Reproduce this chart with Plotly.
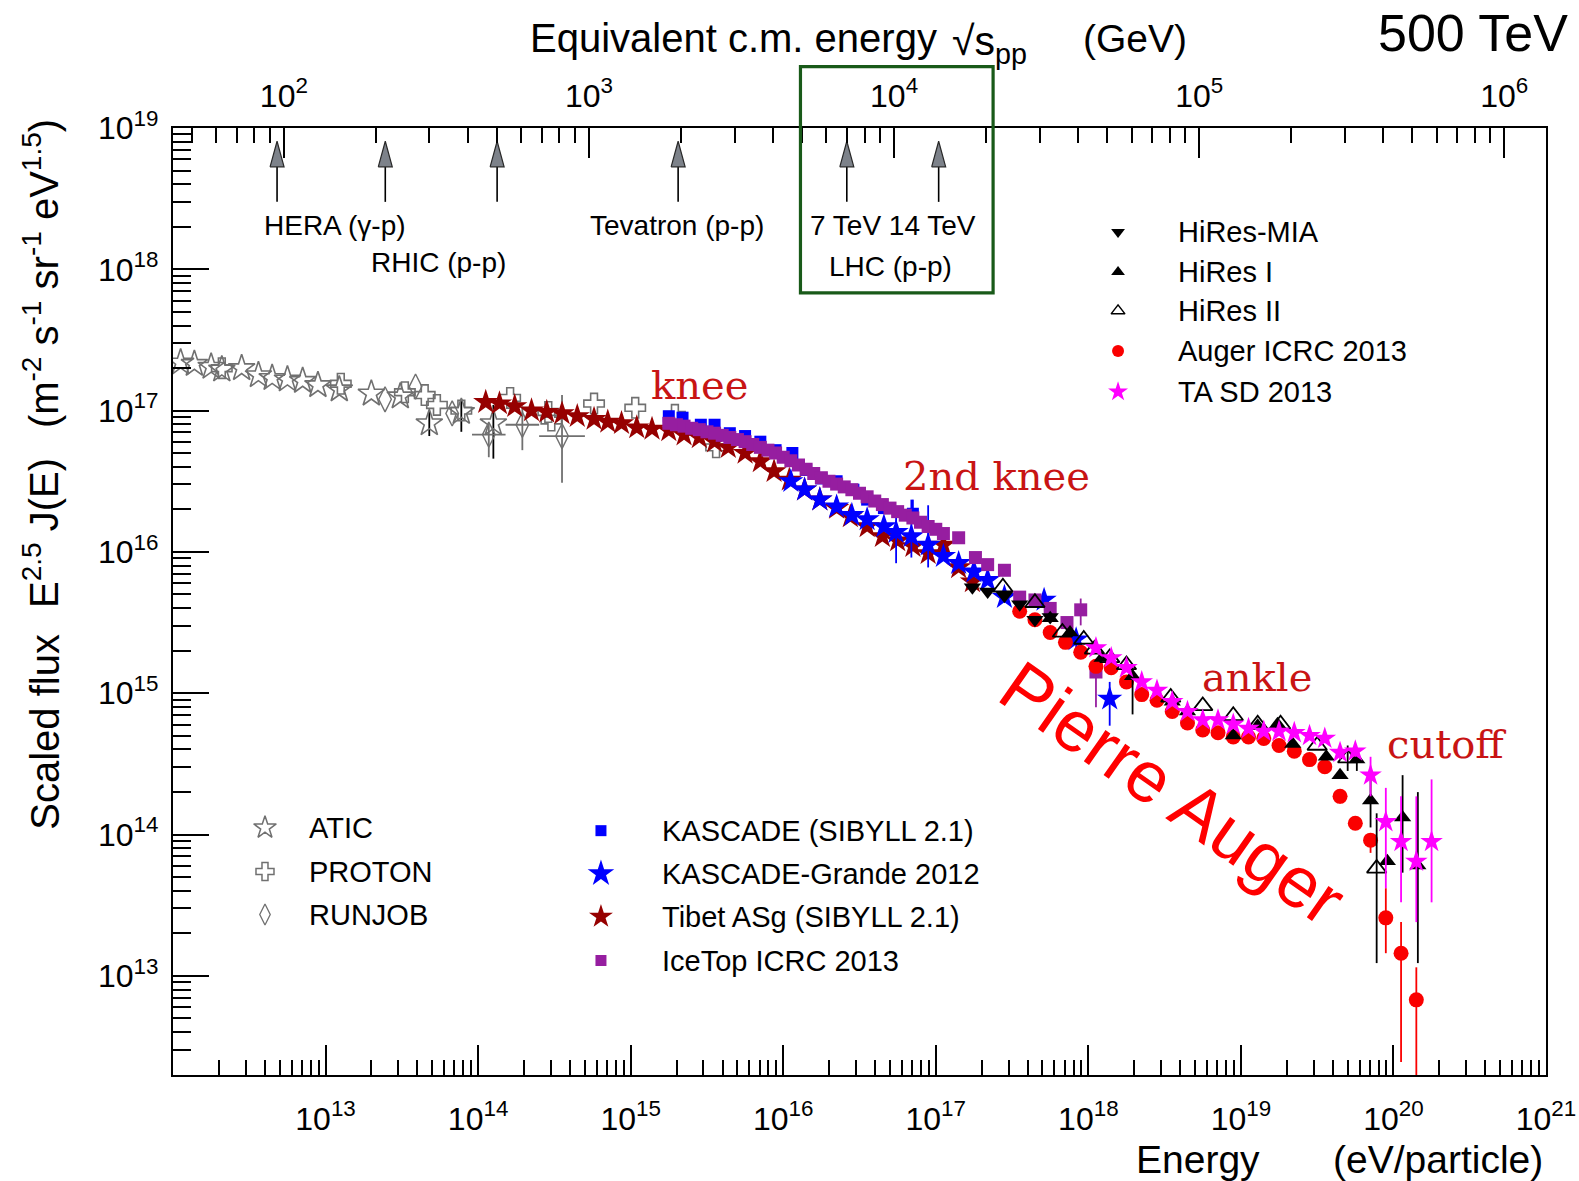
import numpy as np
import plotly.graph_objects as go

# ---------------- data: log10(E / eV) and log10(E^2.5 J(E)) ----------------
atic_logE = [12.05, 12.14, 12.25, 12.32, 12.45, 12.56, 12.65, 12.75, 12.85, 12.95, 13.09, 13.30, 13.49, 13.68, 13.89, 14.10]
atic_logF = [17.34, 17.33, 17.31, 17.29, 17.30, 17.25, 17.23, 17.22, 17.21, 17.18, 17.15, 17.12, 17.10, 16.91, 16.99, 16.91]
atic_err = {13.68: (16.99, 16.82), 13.89: (17.08, 16.85), 14.10: (17.04, 16.66)}

proton_logE = [12.32, 13.10, 13.52, 13.65, 13.73, 13.89, 14.21, 14.46, 14.48, 14.76, 15.03, 15.29, 15.56]
proton_logF = [17.30, 17.19, 17.13, 17.11, 17.04, 17.00, 17.09, 16.99, 16.93, 17.05, 17.02, 16.97, 16.74]

runjob_logE = [13.39, 13.59, 13.83, 14.07, 14.29, 14.55]
runjob_logF = [17.08, 17.17, 16.98, 16.83, 16.90, 16.82]
runjob_err = {14.07: (16.91, 16.67), 14.29: (17.03, 16.72), 14.55: (17.11, 16.49)}
runjob_xerr = {14.07: (14.18, 13.96), 14.29: (14.40, 14.18), 14.55: (14.70, 14.40)}

tibet_logE = [14.05, 14.14, 14.24, 14.35, 14.45, 14.55, 14.65, 14.76, 14.85, 14.94, 15.04, 15.14, 15.25, 15.35,
              15.45, 15.55, 15.64, 15.75, 15.85, 15.94, 16.04, 16.14, 16.24, 16.35, 16.44, 16.55, 16.65, 16.75,
              16.85, 16.95, 17.05, 17.15, 17.24]
tibet_logF = [17.06, 17.05, 17.03, 17.00, 16.99, 16.98, 16.96, 16.94, 16.92, 16.91, 16.88, 16.87, 16.86, 16.83,
              16.81, 16.78, 16.74, 16.70, 16.64, 16.57, 16.51, 16.44, 16.37, 16.31, 16.25, 16.18, 16.11, 16.08,
              16.04, 15.99, 16.05, 15.89, 15.79]

kascade_logE = [15.25, 15.34, 15.46, 15.55, 15.65, 15.75, 15.85, 15.95, 16.06, 16.15, 16.25, 16.35, 16.46, 16.55, 16.66, 16.85]
kascade_logF = [16.96, 16.95, 16.90, 16.90, 16.84, 16.82, 16.78, 16.72, 16.70, 16.58, 16.52, 16.50, 16.44, 16.37, 16.31, 16.27]
kascade_err = {16.85: (16.37, 16.20)}

grande_logE = [16.05, 16.14, 16.24, 16.35, 16.45, 16.55, 16.66, 16.74, 16.84, 16.95, 17.05, 17.15, 17.25, 17.34,
               17.45, 17.71, 17.92, 18.14]
grande_logF = [16.50, 16.44, 16.37, 16.32, 16.26, 16.23, 16.18, 16.14, 16.11, 16.05, 15.97, 15.92, 15.86, 15.80,
               15.68, 15.66, 15.38, 14.96]
grande_err = {16.74: (16.32, 15.92), 16.84: (16.37, 15.96), 16.95: (16.33, 15.89), 17.92: (15.43, 15.32),
              18.14: (15.08, 14.77)}

icetop_logE = [15.25, 15.30, 15.35, 15.40, 15.45, 15.50, 15.55, 15.60, 15.65, 15.70, 15.75, 15.80, 15.85, 15.90,
               15.95, 16.00, 16.05, 16.10, 16.15, 16.20, 16.25, 16.30, 16.35, 16.40, 16.45, 16.50, 16.55, 16.60,
               16.65, 16.70, 16.75, 16.80, 16.85, 16.90, 16.95, 17.00, 17.05, 17.15, 17.26, 17.34, 17.45, 17.55,
               17.65, 17.75, 17.86, 17.95, 18.05]
icetop_logF = [16.91, 16.90, 16.89, 16.875, 16.865, 16.85, 16.84, 16.825, 16.81, 16.795, 16.78, 16.76, 16.74, 16.72,
               16.70, 16.67, 16.645, 16.615, 16.585, 16.555, 16.525, 16.50, 16.48, 16.46, 16.44, 16.415, 16.39, 16.36,
               16.335, 16.31, 16.285, 16.26, 16.24, 16.21, 16.18, 16.16, 16.13, 16.10, 15.96, 15.91, 15.87, 15.68,
               15.66, 15.60, 15.50, 15.59, 15.15]
icetop_err = {17.95: (15.67, 15.48), 18.05: (15.19, 14.90)}

mia_logE = [17.24, 17.34, 17.45, 17.55, 17.65, 17.75]
mia_logF = [15.75, 15.72, 15.69, 15.63, 15.52, 15.54]

hires1_logE = [17.75, 17.88, 18.09, 18.29, 18.55, 18.65, 18.95, 19.11, 19.24, 19.34, 19.56, 19.65, 19.76, 19.85,
               19.96, 20.06, 20.16]
hires1_logF = [15.53, 15.43, 15.25, 15.12, 14.94, 14.87, 14.70, 14.77, 14.78, 14.64, 14.55, 14.42, 14.53, 14.24,
               13.81, 14.12, 13.78]
hires1_err = {18.29: (15.20, 14.85), 19.76: (14.60, 14.45), 19.85: (14.39, 14.05), 20.06: (14.42, 13.73),
              20.16: (14.30, 13.09)}

hires2_logE = [17.44, 17.65, 17.83, 17.97, 18.04, 18.14, 18.25, 18.54, 18.75, 18.95, 19.11, 19.26, 19.50, 19.70, 19.89]
hires2_logF = [15.75, 15.64, 15.43, 15.38, 15.31, 15.25, 15.20, 14.97, 14.91, 14.84, 14.78, 14.78, 14.63, 14.54, 13.76]
hires2_err = {19.70: (14.63, 14.45), 19.89: (14.15, 13.09)}

auger_logE = [17.55, 17.65, 17.75, 17.85, 17.95, 18.05, 18.15, 18.25, 18.35, 18.45, 18.55, 18.65, 18.75, 18.85,
              18.95, 19.05, 19.15, 19.25, 19.35, 19.45, 19.55, 19.65, 19.75, 19.85, 19.95, 20.05, 20.15]
auger_logF = [15.58, 15.52, 15.43, 15.36, 15.29, 15.19, 15.18, 15.08, 14.99, 14.95, 14.87, 14.79, 14.74, 14.72,
              14.69, 14.69, 14.68, 14.63, 14.59, 14.53, 14.48, 14.27, 14.08, 13.96, 13.41, 13.16, 12.83]
auger_err = {19.65: (14.30, 14.22), 19.75: (14.11, 14.04), 19.85: (14.01, 13.87), 19.95: (13.62, 13.16),
             20.05: (13.38, 12.39), 20.15: (13.06, 12.00)}

ta_logE = [18.05, 18.15, 18.25, 18.35, 18.45, 18.55, 18.65, 18.75, 18.85, 18.95, 19.05, 19.15, 19.25, 19.35,
           19.45, 19.55, 19.65, 19.75, 19.85, 19.95, 20.05, 20.15, 20.25]
ta_logF = [15.32, 15.25, 15.18, 15.08, 15.02, 14.94, 14.87, 14.81, 14.81, 14.78, 14.75, 14.73, 14.73, 14.72,
           14.70, 14.68, 14.58, 14.59, 14.42, 14.09, 13.95, 13.81, 13.95]
ta_err = {19.65: (14.62, 14.53), 19.75: (14.63, 14.55), 19.85: (14.55, 14.27), 19.95: (14.33, 13.62),
          20.05: (14.27, 13.52), 20.15: (14.27, 13.38), 20.25: (14.39, 13.52)}

# collider equivalent c.m. energies (GeV) marked by arrows
collider_sqrt_s = [95, 215, 500, 1960, 7000, 14000]

# tick labels
x_exponents = [13, 14, 15, 16, 17, 18, 19, 20, 21]
y_exponents = [13, 14, 15, 16, 17, 18, 19]
top_exponents = [2, 3, 4, 5, 6]

# ---------------- helpers ----------------
def P(a):
    return np.power(10.0, np.asarray(a, dtype=float))


def err_arrays(logv, center, errs):
    plus, minus = [], []
    for e, c in zip(logv, center):
        if errs and e in errs:
            hi, lo = errs[e]
            plus.append(10 ** hi - 10 ** c)
            minus.append(10 ** c - 10 ** lo)
        else:
            plus.append(0.0)
            minus.append(0.0)
    return plus, minus


GRAY = 'rgb(112,112,112)'
BLUE = 'rgb(0,0,255)'
DRED = 'rgb(150,0,0)'
PURP = 'rgb(150,30,160)'
RED = 'rgb(250,0,0)'
MAG = 'rgb(255,0,255)'

fig = go.Figure()


def series(name, logE, logF, symbol, size, color, lw=0, errs=None, ecolor=None, xerrs=None):
    m = dict(symbol=symbol, size=size, color=color, line=dict(width=lw, color=color))
    tr = go.Scatter(x=P(logE), y=P(logF), mode='markers', name=name, showlegend=False, marker=m)
    if errs:
        plus, minus = err_arrays(logE, logF, errs)
        tr.error_y = dict(type='data', symmetric=False, array=plus, arrayminus=minus,
                          color=ecolor or color, thickness=1.8, width=0)
    if xerrs:
        xp, xm = [], []
        for e in logE:
            if e in xerrs:
                hi, lo = xerrs[e]
                xp.append(10 ** hi - 10 ** e)
                xm.append(10 ** e - 10 ** lo)
            else:
                xp.append(0.0)
                xm.append(0.0)
        tr.error_x = dict(type='data', symmetric=False, array=xp, arrayminus=xm,
                          color=ecolor or color, thickness=1.8, width=0)
    fig.add_trace(tr)


series('ATIC', atic_logE, atic_logF, 'star-open', 20, GRAY, lw=1.6, errs=atic_err, ecolor='black')
series('PROTON', proton_logE, proton_logF, 'cross-open', 17, GRAY, lw=1.6)
series('RUNJOB', runjob_logE, runjob_logF, 'diamond-tall-open', 18, GRAY, lw=1.4, errs=runjob_err,
       ecolor=GRAY, xerrs=runjob_xerr)
series('Tibet ASg (SIBYLL 2.1)', tibet_logE, tibet_logF, 'star', 19, DRED)
series('KASCADE (SIBYLL 2.1)', kascade_logE, kascade_logF, 'square', 12, BLUE, errs=kascade_err)
series('KASCADE-Grande 2012', grande_logE, grande_logF, 'star', 19, BLUE, errs=grande_err)
series('IceTop ICRC 2013', icetop_logE, icetop_logF, 'square', 13, PURP, errs=icetop_err)
series('Auger ICRC 2013', auger_logE, auger_logF, 'circle', 15, RED, errs=auger_err)
series('HiRes-MIA', mia_logE, mia_logF, 'triangle-down', 15, 'black')
series('HiRes I', hires1_logE, hires1_logF, 'triangle-up', 15, 'black', errs=hires1_err)
series('HiRes II', hires2_logE, hires2_logF, 'triangle-up-open', 17, 'black', lw=1.8, errs=hires2_err)
series('TA SD 2013', ta_logE, ta_logF, 'star', 17, MAG, errs=ta_err)

# ---------------- collider arrows (top axis units, y in plot-fraction units) ----------------
hw = 7 / (1373 / 4.5)   # half width of arrow head in decades of the top axis
y_tail, y_base, y_tip = 0.922, 0.959, 0.986
for c in collider_sqrt_s:
    fig.add_trace(go.Scatter(x=[c, c], y=[y_tail, y_base], xaxis='x2', yaxis='y3', mode='lines',
                             line=dict(color='black', width=1.6), showlegend=False, hoverinfo='skip'))
    fig.add_trace(go.Scatter(x=[c * 10 ** (-hw), c, c * 10 ** hw, c * 10 ** (-hw)],
                             y=[y_base, y_tip, y_base, y_base], xaxis='x2', yaxis='y3', mode='lines',
                             fill='toself', fillcolor='rgb(125,130,138)',
                             line=dict(color='rgb(40,40,40)', width=1.2), showlegend=False, hoverinfo='skip'))

# ---------------- legends (marker + text), placed in plot-fraction units ----------------
legend_groups = [
    (0.0670, 0.0976, [('ATIC', 'star-open', 17, GRAY, 1.5, 0.2612),
                      ('PROTON', 'cross-open', 15, GRAY, 1.5, 0.2148),
                      ('RUNJOB', 'diamond-tall-open', 15, GRAY, 1.3, 0.1694)]),
    (0.3117, 0.3547, [('KASCADE (SIBYLL 2.1)', 'square', 11, BLUE, 0, 0.2580),
                      ('KASCADE-Grande 2012', 'star', 20, BLUE, 0, 0.2127),
                      ('Tibet ASg (SIBYLL 2.1)', 'star', 18, DRED, 0, 0.1673),
                      ('IceTop ICRC 2013', 'square', 11, PURP, 0, 0.1209)]),
    (0.6883, 0.7305, [('HiRes-MIA', 'triangle-down', 12, 'black', 0, 0.8902),
                      ('HiRes I', 'triangle-up', 12, 'black', 0, 0.8480),
                      ('HiRes II', 'triangle-up-open', 12, 'black', 1.5, 0.8069),
                      ('Auger ICRC 2013', 'circle', 12, RED, 0, 0.7646),
                      ('TA SD 2013', 'star', 15, MAG, 0, 0.7214)]),
]
annotations = []
LEG_FONT = dict(family='Liberation Sans, Arial, sans-serif', size=29, color='black')
for mx, tx, entries in legend_groups:
    for label, sym, sz, col, lw, yy in entries:
        fig.add_trace(go.Scatter(x=[mx], y=[yy], xaxis='x3', yaxis='y3', mode='markers',
                                 marker=dict(symbol=sym, size=sz, color=col, line=dict(width=lw, color=col)),
                                 showlegend=False, hoverinfo='skip', cliponaxis=False))
        annotations.append(dict(text=label, x=tx, y=yy, xref='paper', yref='paper', xanchor='left',
                                yanchor='middle', showarrow=False, font=LEG_FONT))


def note(text, x, y, font, angle=0, xanchor='center', yanchor='middle'):
    annotations.append(dict(text=text, x=x, y=y, xref='paper', yref='paper', showarrow=False,
                            xanchor=xanchor, yanchor=yanchor, textangle=angle, font=font))


# ---------------- text annotations ----------------
SANS = 'Liberation Sans, Arial, sans-serif'
SERIF = 'DejaVu Serif, Liberation Serif, serif'
lab_font = dict(family=SANS, size=28, color='black')
for txt, x, y in [('HERA (γ-p)', 0.1180, 0.8966), ('RHIC (p-p)', 0.1937, 0.8575),
                  ('Tevatron (p-p)', 0.3671, 0.8966), ('7 TeV 14 TeV', 0.5244, 0.8966),
                  ('LHC (p-p)', 0.5229, 0.8533)]:
    note(txt, x, y, lab_font)

red_font = dict(family=SERIF, size=40, color='rgb(200,20,20)')
for txt, x, y in [('knee', 0.3838, 0.7288), ('2nd knee', 0.6001, 0.6327),
                  ('ankle', 0.7895, 0.4206), ('cutoff', 0.9272, 0.3499)]:
    note(txt, x, y, red_font)

note('Pierre Auger', 0.7283, 0.2982, dict(family=SANS, size=72, color='rgb(255,0,0)'), angle=35)

title_font = dict(family=SANS, size=39, color='black')
note('Equivalent c.m. energy', 0.4083, 1.0950, dict(family=SANS, size=40, color='black'))
note('√s<sub>pp</sub>', 0.5950, 1.0890, dict(family=SANS, size=41, color='black'))
note('(GeV)', 0.7007, 1.0950, title_font)
note('500 TeV', 0.9468, 1.1003, dict(family=SANS, size=52, color='black'))
note('Energy', 0.7465, -0.0892, title_font)
note('(eV/particle)', 0.9213, -0.0892, title_font)
ytitle_font = dict(family=SANS, size=40, color='black')
note('Scaled flux', -0.0932, 0.3625, ytitle_font, angle=-90)
note('E<sup>2.5</sup> J(E)', -0.0960, 0.5726, ytitle_font, angle=-90)
note('(m<sup>-2</sup> s<sup>-1</sup> sr<sup>-1</sup> eV<sup>1.5</sup>)', -0.0960, 0.8459, ytitle_font, angle=-90)

# ---------------- axes ----------------
tick_font = dict(family=SANS, size=32, color='black')
m_p = 0.938272  # GeV
top_range = [0.5 * np.log10(2 * m_p * 1e3), 0.5 * np.log10(2 * m_p * 1e12)]


def minors(k0, k1):
    return [d * 10.0 ** k for k in range(k0, k1) for d in range(2, 10)]


common = dict(showgrid=False, zeroline=False, tickfont=tick_font, tickcolor='black', tickwidth=1.6,
              automargin=False, ticklabeloverflow='allow')

fig.update_layout(
    width=1579, height=1181,
    margin=dict(l=173, r=33, t=128, b=106, autoexpand=False),
    plot_bgcolor='white', paper_bgcolor='white',
    showlegend=False,
    annotations=annotations,
    shapes=[dict(type='rect', xref='paper', yref='paper', x0=0.4570, x1=0.5973, y0=0.8259, y1=1.0649,
                 line=dict(color='rgb(25,90,25)', width=3.2), fillcolor='rgba(0,0,0,0)', layer='above')],
    xaxis=dict(type='log', range=[12, 21], tickvals=[10.0 ** k for k in x_exponents],
               ticktext=['10<sup>%d</sup>' % k for k in x_exponents], ticks='inside', ticklen=30,
               minor=dict(tickvals=minors(12, 21), ticks='inside', ticklen=15, tickwidth=1.6, tickcolor='black'),
               showline=True, linecolor='black', linewidth=2.2, mirror=True, ticklabelstandoff=14, **common),
    xaxis2=dict(type='log', overlaying='x', side='top', anchor='y', range=top_range,
                tickvals=[10.0 ** k for k in top_exponents],
                ticktext=['10<sup>%d</sup>' % k for k in top_exponents], ticks='inside', ticklen=30,
                minor=dict(tickvals=minors(1, 7), ticks='inside', ticklen=15, tickwidth=1.6, tickcolor='black'),
                showline=False, ticklabelstandoff=14, **common),
    xaxis3=dict(overlaying='x', range=[0, 1], visible=False, anchor='y3'),
    yaxis=dict(type='log', range=[12.298, 19], tickvals=[10.0 ** k for k in y_exponents],
               ticktext=['10<sup>%d</sup>' % k for k in y_exponents], ticks='inside', ticklen=36,
               minor=dict(tickvals=minors(12, 19), ticks='inside', ticklen=18, tickwidth=1.6, tickcolor='black'),
               showline=True, linecolor='black', linewidth=2.2, mirror=True, ticklabelstandoff=6, **common),
    yaxis3=dict(overlaying='y', range=[0, 1], visible=False, anchor='x3'),
)

fig.write_html("out.html")
